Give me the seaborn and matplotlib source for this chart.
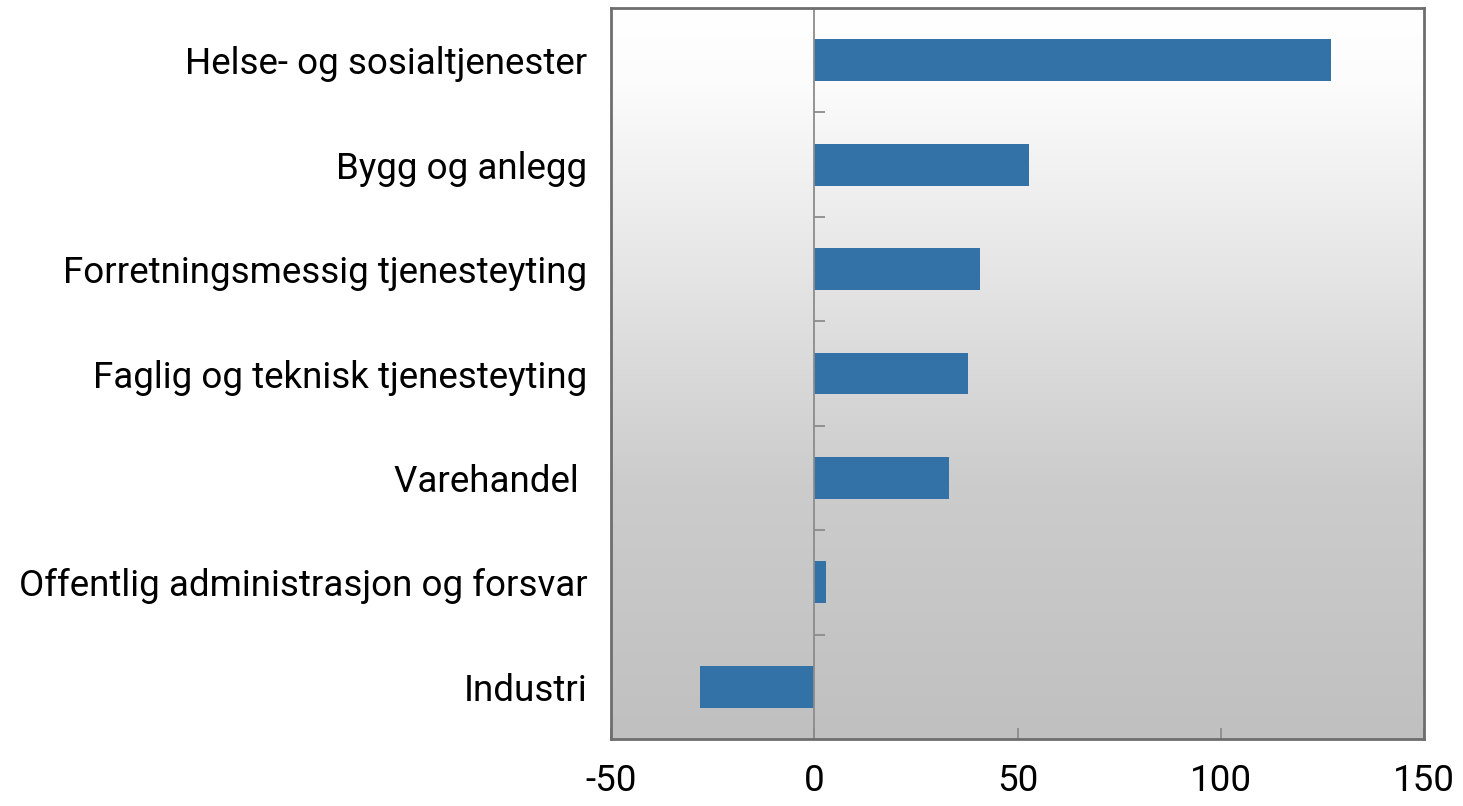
import numpy as np
import pandas as pd
import matplotlib
matplotlib.use("Agg")
import matplotlib.pyplot as plt
from matplotlib.colors import LinearSegmentedColormap
import seaborn as sns

# ── DATA ──────────────────────────────────────────────────────────────────────
CATEGORIES = [
    "Helse- og sosialtjenester",
    "Bygg og anlegg",
    "Forretningsmessig tjenesteyting",
    "Faglig og teknisk tjenesteyting",
    "Varehandel ",
    "Offentlig administrasjon og forsvar",
    "Industri",
]
VALUES = [127.2, 52.8, 40.8, 37.8, 33.2, 2.8, -28.2]
X_TICKS = [-50, 0, 50, 100, 150]

BAR   = "#3372a7"
FRAME = "#6e6e6e"
ZERO  = "#8c8c8c"

sns.set_theme(style="white")
plt.rcParams["font.family"] = ["Roboto", "DejaVu Sans"]

df = pd.DataFrame({"category": CATEGORIES, "value": VALUES})

fig = plt.figure(figsize=(14.63, 8.06), dpi=100, facecolor="white")
ax = fig.add_axes([611 / 1463, 1 - 739 / 806, (1424 - 611) / 1463, (739 - 8) / 806])

# gradient background, white at top to grey at bottom
grad_cmap = LinearSegmentedColormap.from_list(
    "bg", [(0.0, "#ffffff"), (0.1, "#fcfcfc"), (0.65, "#cccccc"), (1.0, "#c0c0c0")])
grad = np.linspace(0, 1, 256).reshape(-1, 1)
ax.imshow(grad, cmap=grad_cmap, aspect="auto", extent=(0, 1, 0, 1),
          origin="upper", transform=ax.transAxes, zorder=0)

sns.barplot(data=df, x="value", y="category", order=CATEGORIES,
            color=BAR, saturation=1, width=0.4, orient="h", ax=ax,
            linewidth=0, zorder=2)

ax.axvline(0, color=ZERO, lw=1.3, zorder=3)
# small ticks on the zero line between categories
n = len(CATEGORIES)
ax.hlines(np.arange(n - 1) + 0.5, 0, 2.6, color=ZERO, lw=1.3, zorder=3)

ax.set_xlim(X_TICKS[0], X_TICKS[-1])
ax.set_ylim(n - 0.5, -0.5)
ax.set_xticks(X_TICKS)
ax.set_xticklabels([str(t) for t in X_TICKS])
ax.set_xlabel("")
ax.set_ylabel("")

ax.tick_params(axis="x", direction="in", length=8, width=1.3, color=ZERO,
               pad=17, labelsize=26.5, labelcolor="black", bottom=True)
ax.tick_params(axis="y", length=0, pad=17, labelsize=26.5, labelcolor="black")

for s in ax.spines.values():
    s.set_visible(True)
    s.set_color(FRAME)
    s.set_linewidth(2)
    s.set_zorder(4)

fig.savefig("out.png", dpi=100, facecolor="white")
